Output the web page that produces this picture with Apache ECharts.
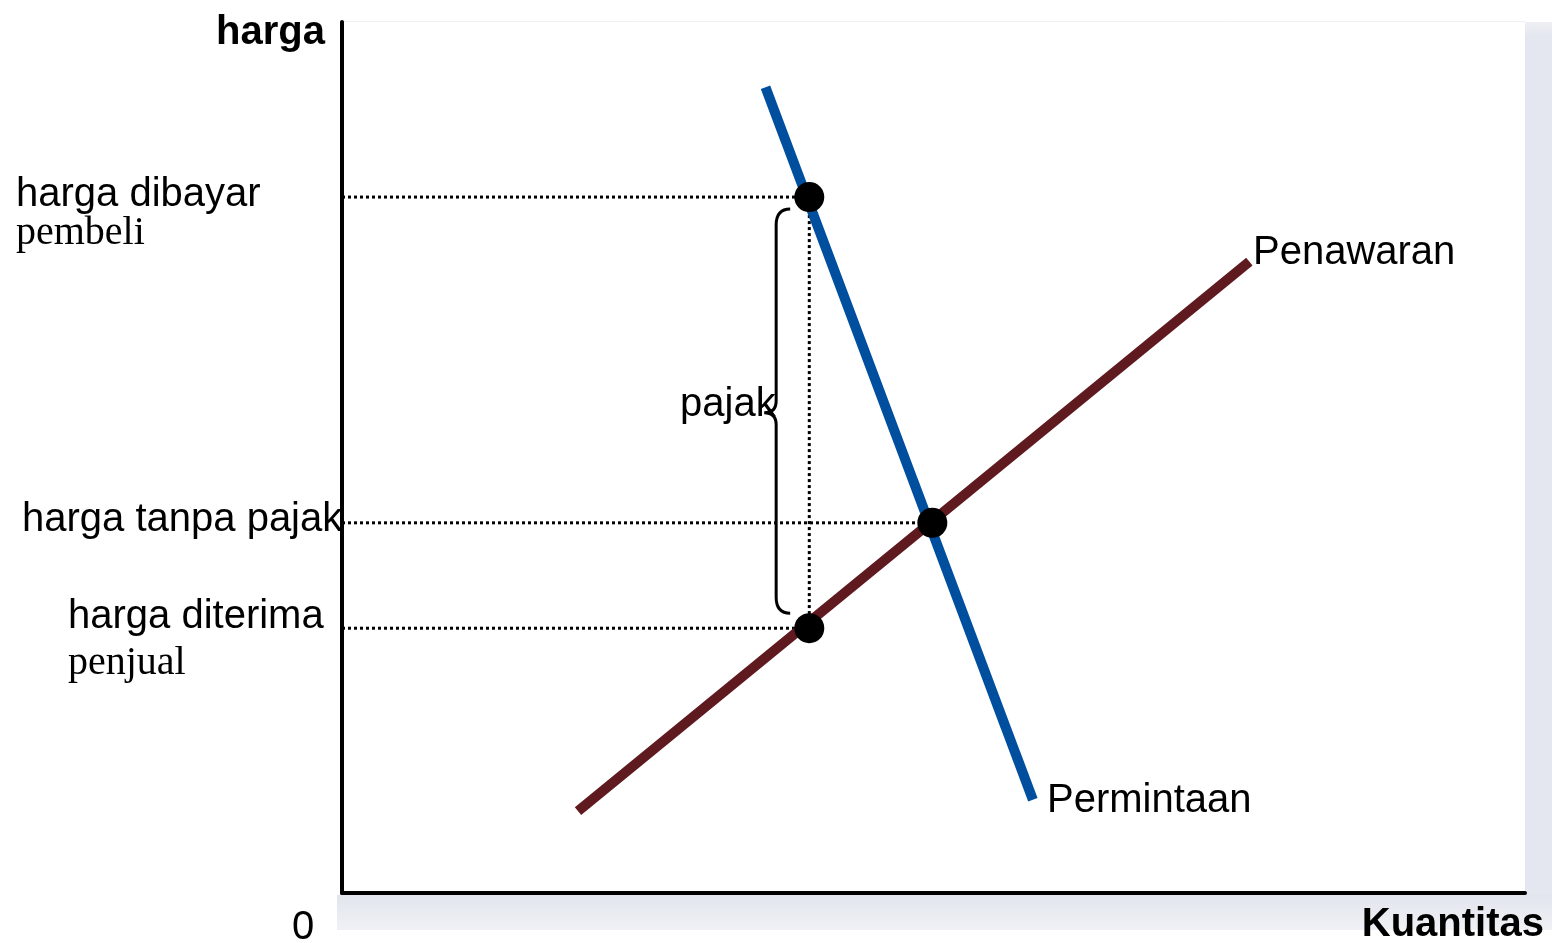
<!DOCTYPE html>
<html>
<head>
<meta charset="utf-8">
<script src="https://cdn.jsdelivr.net/npm/echarts@6/dist/echarts.min.js"></script>
<style>
  html, body { margin: 0; padding: 0; background: #fff; }
  #chart { width: 1552px; height: 943px; }
</style>
</head>
<body>
<div id="chart"></div>
<script>
// kurva permintaan dan penawaran (kuantitas, harga)
var demand = [[35.8, 92.5], [58.4, 10.7]]
var supply = [[19.95, 9.4], [76.7, 72.5]]

// titik-titik keseimbangan
var qTax = 39.5      // kuantitas dengan pajak
var qEq = 49.9       // kuantitas tanpa pajak
var pPaid = 79.9     // harga dibayar pembeli
var pEq = 42.5       // harga tanpa pajak
var pRecv = 30.4     // harga diterima penjual
var braceX = 36.7

var points = [[qTax, pPaid], [qEq, pEq], [qTax, pRecv]]

var sans = '"Liberation Sans", Arial, sans-serif'
var serif = '"Liberation Serif", "Times New Roman", serif'

var myChart = echarts.init(document.getElementById('chart'))

function dotted(name, data) {
  return {
    name: name,
    type: 'line',
    data: data,
    symbol: 'none',
    silent: true,
    z: 1,
    lineStyle: { color: '#000', width: 3, type: [3, 3] }
  }
}

function txt(text, x, baseline, font, align) {
  return {
    type: 'text',
    z: 100,
    style: {
      text: text,
      x: x,
      y: baseline - 10,
      font: font,
      fill: '#000',
      textAlign: align || 'left',
      textVerticalAlign: 'middle'
    }
  }
}

var option = {
  animation: false,
  grid: { left: 342, right: 27, top: 22, bottom: 50 },
  xAxis: {
    type: 'value',
    min: 0,
    max: 100,
    axisLine: { show: true, lineStyle: { color: '#000', width: 4 } },
    axisTick: { show: false },
    axisLabel: { show: false },
    splitLine: { show: false }
  },
  yAxis: {
    type: 'value',
    min: 0,
    max: 100,
    axisLine: { show: true, lineStyle: { color: '#000', width: 4 } },
    axisTick: { show: false },
    axisLabel: { show: false },
    splitLine: { show: false }
  },
  graphic: [
    // bayangan panel
    { type: 'rect', z: -10, shape: { x: 1525, y: 22, width: 27, height: 908 },
      style: { fill: new echarts.graphic.LinearGradient(0, 0, 0, 1, [
        { offset: 0, color: '#eef0f4' }, { offset: 0.015, color: '#e4e7ef' }, { offset: 1, color: '#e4e7ef' }]) } },
    { type: 'rect', z: -10, shape: { x: 337, y: 895, width: 1215, height: 35 },
      style: { fill: new echarts.graphic.LinearGradient(0, 0, 0, 1, [
        { offset: 0, color: '#e2e5ed' }, { offset: 1, color: '#eff1f5' }]) } },
    { type: 'line', z: -9, shape: { x1: 343, y1: 21.5, x2: 1525, y2: 21.5 },
      style: { stroke: '#f0f0f0', lineWidth: 1 } },

    txt('harga', 325, 43, 'bold 40px ' + sans, 'right'),
    txt('Kuantitas', 1544, 935, 'bold 40px ' + sans, 'right'),
    txt('0', 292, 938, '40px ' + sans),
    txt('harga dibayar', 16, 205, '40px ' + sans),
    txt('pembeli', 16, 243, '40px ' + serif),
    txt('harga tanpa pajak', 22, 530, '40px ' + sans),
    txt('harga diterima', 68, 627, '40px ' + sans),
    txt('penjual', 68, 673, '40px ' + serif),
    txt('pajak', 680, 415, '40px ' + sans),
    txt('Penawaran', 1253, 263, '40px ' + sans),
    txt('Permintaan', 1047, 811, '40px ' + sans)
  ],
  series: [
    dotted('dibayar', [[0, pPaid], [qTax, pPaid]]),
    dotted('tanpa pajak', [[0, pEq], [qEq, pEq]]),
    dotted('diterima', [[0, pRecv], [qTax, pRecv]]),
    dotted('vertikal', [[qTax, pPaid], [qTax, pRecv]]),
    {
      name: 'Penawaran',
      type: 'line',
      data: supply,
      symbol: 'none',
      z: 3,
      lineStyle: { color: '#5e1a1f', width: 10, cap: 'butt' }
    },
    {
      name: 'Permintaan',
      type: 'line',
      data: demand,
      symbol: 'none',
      z: 4,
      lineStyle: { color: '#004f9f', width: 10, cap: 'butt' }
    },
    {
      name: 'titik',
      type: 'scatter',
      data: points,
      symbol: 'circle',
      symbolSize: 30,
      z: 5,
      itemStyle: { color: '#000', opacity: 1 }
    },
    {
      name: 'kurung',
      type: 'custom',
      z: 6,
      data: [[braceX, pPaid, pRecv]],
      renderItem: function (params, api) {
        var top = api.coord([api.value(0), api.value(1)])
        var bot = api.coord([api.value(0), api.value(2)])
        var x0 = top[0]
        var yT = top[1] + 12
        var yB = bot[1] - 15
        var yM = (top[1] + bot[1]) / 2
        var d = 'M' + (x0 + 14) + ',' + yT +
          ' Q' + x0 + ',' + yT + ' ' + x0 + ',' + (yT + 16) +
          ' L' + x0 + ',' + (yM - 12) +
          ' Q' + x0 + ',' + yM + ' ' + (x0 - 12) + ',' + yM +
          ' Q' + x0 + ',' + yM + ' ' + x0 + ',' + (yM + 12) +
          ' L' + x0 + ',' + (yB - 16) +
          ' Q' + x0 + ',' + yB + ' ' + (x0 + 14) + ',' + yB
        return {
          type: 'path',
          shape: { pathData: d },
          style: { fill: 'none', stroke: '#000', lineWidth: 3 }
        }
      }
    }
  ]
}

myChart.setOption(option)
</script>
</body>
</html>
